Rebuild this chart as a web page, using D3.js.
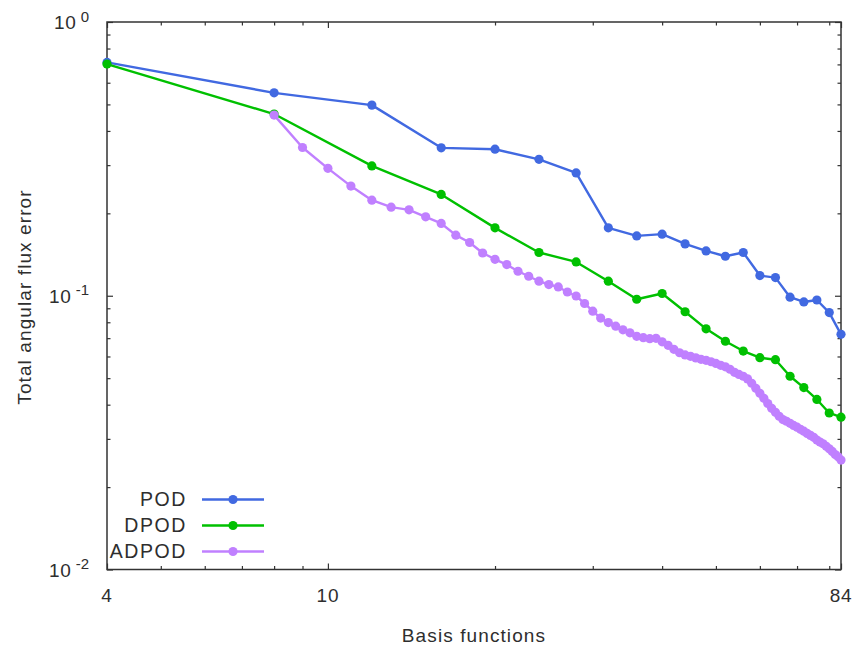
<!DOCTYPE html>
<html>
<head>
<meta charset="utf-8">
<script src="https://cdn.jsdelivr.net/npm/d3@7"></script>
<style>
  html, body { margin: 0; padding: 0; background: #fff; }
  text { font-family: "Liberation Sans", Arial, sans-serif; fill: #2e2e2e; }
</style>
</head>
<body>
<svg id="chart" width="854" height="645"></svg>
<script>
// Number of basis functions for each reduced model
const basisPOD = [4, 8, 12, 16, 20, 24, 28, 32, 36, 40, 44, 48, 52, 56, 60, 64, 68, 72, 76, 80, 84];
const errorPOD = [0.712, 0.551, 0.497, 0.347, 0.343, 0.315, 0.281, 0.177, 0.1654, 0.1679, 0.1547,
                  0.1458, 0.1394, 0.1439, 0.1185, 0.1165, 0.0988, 0.0949, 0.0965, 0.0868, 0.0723];

const basisDPOD = [4, 8, 12, 16, 20, 24, 28, 32, 36, 40, 44, 48, 52, 56, 60, 64, 68, 72, 76, 80, 84];
const errorDPOD = [0.702, 0.461, 0.298, 0.2344, 0.177, 0.1439, 0.1329, 0.113, 0.0971, 0.1019, 0.0874,
                   0.0757, 0.0682, 0.0628, 0.0594, 0.0584, 0.0508, 0.0462, 0.0418, 0.0373, 0.0360];

const basisADPOD = [8, 9, 10, 11, 12, 13, 14, 15, 16, 17, 18, 19, 20, 21, 22, 23, 24, 25, 26, 27,
                    28, 29, 30, 31, 32, 33, 34, 35, 36, 37, 38, 39, 40, 41, 42, 43, 44, 45, 46, 47,
                    48, 49, 50, 51, 52, 53, 54, 55, 56, 57, 58, 59, 60, 61, 62, 63, 64, 65, 66, 67,
                    68, 69, 70, 71, 72, 73, 74, 75, 76, 77, 78, 79, 80, 81, 82, 83, 84];
const errorADPOD = [0.457, 0.348, 0.292, 0.2515, 0.2235, 0.2107, 0.2060, 0.1942, 0.1837, 0.1665,
                    0.1565, 0.1433, 0.1359, 0.1300, 0.1229, 0.1178, 0.1130, 0.1099, 0.1077, 0.1032,
                    0.0998, 0.0937, 0.0878, 0.0829, 0.0798, 0.0774, 0.0751, 0.0732, 0.0711, 0.0703,
                    0.0697, 0.0699, 0.0679, 0.0659, 0.0637, 0.0619, 0.0608, 0.0601, 0.0593, 0.0586,
                    0.0581, 0.0574, 0.0566, 0.0557, 0.0550, 0.0539, 0.0525, 0.0516, 0.0508, 0.0497,
                    0.0479, 0.0459, 0.0440, 0.0422, 0.0404, 0.0388, 0.0375, 0.0363, 0.0353, 0.0348,
                    0.0342, 0.0336, 0.0331, 0.0325, 0.0320, 0.0314, 0.0309, 0.0304, 0.0297, 0.0292,
                    0.0288, 0.0282, 0.0276, 0.0270, 0.0263, 0.0258, 0.0251];

const seriesNames = ["POD", "DPOD", "ADPOD"];
const seriesColors = ["#4169e1", "#00c000", "#c080ff"];

// Axis ticks and labels
const xMajorTicks = [4, 10, 84];
const xTickLabels = ["4", "10", "84"];
const xMinorTicks = [5, 6, 7, 8, 9, 20, 30, 40, 50, 60, 70, 80];
const yMajorTicks = [1, 0.1, 0.01];
const yTickExponents = ["0", "-1", "-2"];
const yMinorTicks = [0.02, 0.03, 0.04, 0.05, 0.06, 0.07, 0.08, 0.09,
                     0.2, 0.3, 0.4, 0.5, 0.6, 0.7, 0.8, 0.9];
const xTitle = "Basis functions";
const yTitle = "Total angular flux error";

const svg = d3.select("#chart");
const plotLeft = 107, plotRight = 841, plotTop = 22, plotBottom = 569.5;

const x = d3.scaleLog().domain([4, 84]).range([plotLeft, plotRight]);
const y = d3.scaleLog().domain([0.01, 1]).range([plotBottom, plotTop]);

const axisColor = "#333";

// Inward tick marks on all four sides
function ticks(axisFn, values, size, transform) {
  const g = svg.append("g").attr("transform", transform)
    .call(axisFn.tickValues(values).tickSize(size).tickSizeOuter(0).tickFormat(""));
  g.select(".domain").remove();
  g.selectAll("line").attr("stroke", axisColor).attr("stroke-width", 1.2);
  return g;
}
ticks(d3.axisBottom(x), xMajorTicks, -6, `translate(0,${plotBottom})`);
ticks(d3.axisBottom(x), xMinorTicks, -3.5, `translate(0,${plotBottom})`);
ticks(d3.axisTop(x), xMajorTicks, -6, `translate(0,${plotTop})`);
ticks(d3.axisTop(x), xMinorTicks, -3.5, `translate(0,${plotTop})`);
ticks(d3.axisLeft(y), yMajorTicks, -6, `translate(${plotLeft},0)`);
ticks(d3.axisLeft(y), yMinorTicks, -3.5, `translate(${plotLeft},0)`);
ticks(d3.axisRight(y), yMajorTicks, -6, `translate(${plotRight},0)`);
ticks(d3.axisRight(y), yMinorTicks, -3.5, `translate(${plotRight},0)`);

// Frame
svg.append("rect")
  .attr("x", plotLeft).attr("y", plotTop)
  .attr("width", plotRight - plotLeft).attr("height", plotBottom - plotTop)
  .attr("fill", "none").attr("stroke", axisColor).attr("stroke-width", 1.5);

// X tick labels
svg.append("g").selectAll("text").data(xMajorTicks).join("text")
  .attr("x", d => x(d)).attr("y", 601.5)
  .attr("text-anchor", "middle")
  .attr("font-size", 19)
  .attr("letter-spacing", 0.8)
  .text((d, i) => xTickLabels[i]);

// Y tick labels as powers of ten
const yLab = svg.append("g").selectAll("text").data(yMajorTicks).join("text")
  .attr("x", 89).attr("y", d => y(d) + 7)
  .attr("text-anchor", "end")
  .attr("font-size", 19);
yLab.append("tspan").attr("letter-spacing", 0.8).text("10");
yLab.append("tspan").attr("dx", 4).attr("dy", -7.5).attr("font-size", 15)
  .text((d, i) => yTickExponents[i]);

// Axis titles
svg.append("text")
  .attr("x", (plotLeft + plotRight) / 2).attr("y", 641.5)
  .attr("text-anchor", "middle").attr("font-size", 19).attr("letter-spacing", 1.1)
  .text(xTitle);
svg.append("text")
  .attr("transform", "translate(31,297) rotate(-90)")
  .attr("text-anchor", "middle").attr("font-size", 19).attr("letter-spacing", 1.1)
  .text(yTitle);

// Series
const series = [
  { name: seriesNames[0], color: seriesColors[0], xs: basisPOD, ys: errorPOD },
  { name: seriesNames[1], color: seriesColors[1], xs: basisDPOD, ys: errorDPOD },
  { name: seriesNames[2], color: seriesColors[2], xs: basisADPOD, ys: errorADPOD }
];

const line = d3.line().x(d => x(d[0])).y(d => y(d[1]));

series.forEach(s => {
  const pts = s.xs.map((v, i) => [v, s.ys[i]]);
  const g = svg.append("g");
  g.append("path").datum(pts)
    .attr("d", line)
    .attr("fill", "none").attr("stroke", s.color).attr("stroke-width", 2.4)
    .attr("stroke-linejoin", "round");
  g.selectAll("circle").data(pts).join("circle")
    .attr("cx", d => x(d[0])).attr("cy", d => y(d[1])).attr("r", 4.6)
    .attr("fill", s.color);
});

// Legend
const legend = svg.append("g");
series.forEach((s, i) => {
  const ly = 499.5 + i * 26;
  legend.append("text")
    .attr("x", 187).attr("y", ly + 6.5)
    .attr("text-anchor", "end").attr("font-size", 19.5).attr("letter-spacing", 1.6)
    .text(s.name);
  legend.append("line")
    .attr("x1", 202).attr("x2", 264).attr("y1", ly).attr("y2", ly)
    .attr("stroke", s.color).attr("stroke-width", 2.4);
  legend.append("circle")
    .attr("cx", 233).attr("cy", ly).attr("r", 4.6).attr("fill", s.color);
});
</script>
</body>
</html>
